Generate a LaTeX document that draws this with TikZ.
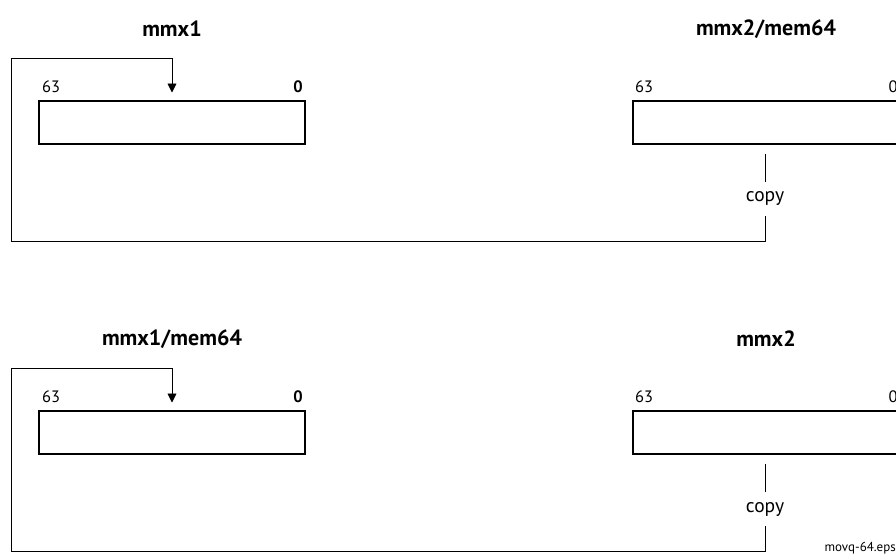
\documentclass[tikz,border=0pt]{standalone}
\usepackage{fontspec}
\setmainfont{PT Sans}
\usetikzlibrary{arrows.meta}
\tikzset{
  reg/.style={draw, line width=2pt, minimum width=266pt, minimum height=43pt, inner sep=0pt},
  ttl/.style={font=\fontsize{22}{25}\selectfont\bfseries, inner sep=0pt},
  bitlbl/.style={font=\fontsize{16.5}{19}\selectfont, inner sep=0pt},
  bitbold/.style={bitlbl, font=\fontsize{16.5}{19}\selectfont\bfseries},
  cplbl/.style={font=\fontsize{19.5}{22}\selectfont, inner sep=0pt, minimum height=34pt},
  wire/.style={line width=0.9pt},
  tip/.style={-{Triangle[width=9pt,length=9pt]}}
}
\begin{document}
\begin{tikzpicture}[x=1pt,y=-1pt]
\useasboundingbox (0,0) rectangle (896,555);
\clip (0,0) rectangle (896,555);
\foreach \dy/\la/\lb/\s in {0/mmx1/mmx2\slash mem64/a, 310/mmx1\slash mem64/mmx2/b}{
  \begin{scope}[yshift=-\dy pt]
  \node[ttl] (t1\s) at (172,29) {\la};
  \node[ttl] (t2\s) at (766,29) {\lb};
  \node[reg] (r1\s) at (172,122) {};
  \node[reg] (r2\s) at (766,122) {};
  \node[bitlbl] (h1\s) at (51,87) {63};
  \node[bitbold] (l1\s) at (298,87) {0};
  \node[bitlbl] (h2\s) at (644,87) {63};
  \node[bitlbl] (l2\s) at (893,87) {0};
  \node[cplbl] (cp\s) at (765,199) {copy};
  \coordinate (bl\s) at (11,241);
  \coordinate (tl\s) at (11,58);
  \coordinate (src\s) at ([yshift=-9pt]r2\s.south -| cp\s);
  \coordinate (dst\s) at ([yshift=7pt]r1\s.north);
  \draw[wire] (src\s) -- (cp\s.north);
  \draw[wire,tip] (cp\s.south) |- (bl\s) -- (tl\s) -| (dst\s);
  \end{scope}
}
\node[font=\fontsize{13}{15}\selectfont, anchor=east, inner sep=0pt] (fn) at (896,548) {movq-64.eps};
\end{tikzpicture}
\end{document}
